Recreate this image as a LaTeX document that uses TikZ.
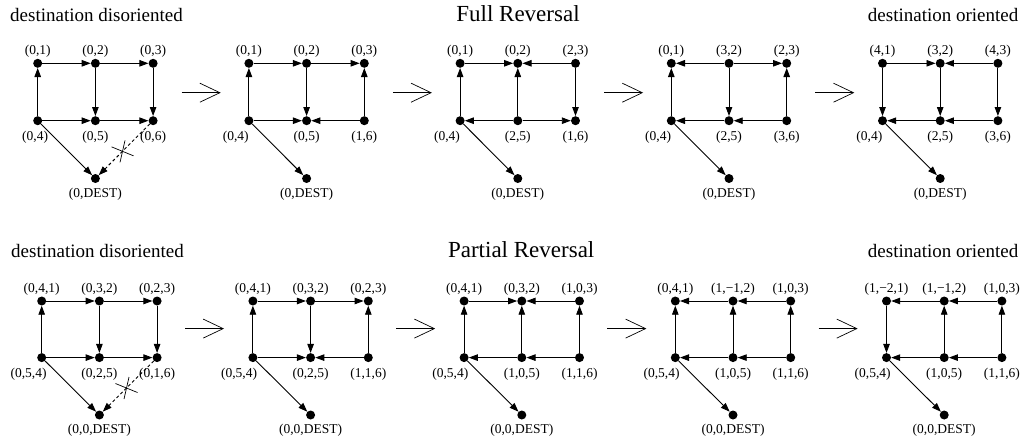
\documentclass[tikz,border=0pt]{standalone}
\usepackage{fontspec}
\setmainfont{Liberation Serif}
\usetikzlibrary{arrows.meta,calc}
\tikzset{
  dot/.style={circle,fill=black,inner sep=0pt,minimum size=9pt},
  lab/.style={inner sep=0pt,font=\fontsize{13.5}{15}\selectfont},
  ttl/.style={inner sep=0pt,font=\fontsize{19}{22}\selectfont},
  bigttl/.style={inner sep=0pt,font=\fontsize{23}{26}\selectfont},
  edg/.style={-{Triangle[length=9pt,width=6.5pt]},line width=0.9pt},
  dedg/.style={edg,dash pattern=on 3pt off 2.5pt},
  cross/.style={line width=0.7pt},
  stepar/.style={-{Straight Barb[length=20pt,width=19pt]},line width=0.7pt}
}
% grid of dots: prefix, x of left column, y of top row, row gap, dest gap
\newcommand\mkgrid[5]{%
  \node[dot] (#1TL) at (#2,#3) {};
  \node[dot] (#1TM) at (#2+57.7,#3) {};
  \node[dot] (#1TR) at (#2+115.4,#3) {};
  \node[dot] (#1BL) at (#2,#3-#4) {};
  \node[dot] (#1BM) at (#2+57.7,#3-#4) {};
  \node[dot] (#1BR) at (#2+115.4,#3-#4) {};
  \node[dot] (#1D)  at (#2+57.7,#3-#5) {};
}
% labels: prefix, x shift of bottom-left label, TL, TM, TR, BL, BM, BR, D
\newcommand\mklab[9]{%
  \node[lab,anchor=base] (#1lTL) at ([yshift=8.4pt]#1TL.center) {#3};
  \node[lab,anchor=base] (#1lTM) at ([yshift=8.4pt]#1TM.center) {#4};
  \node[lab,anchor=base] (#1lTR) at ([yshift=8.4pt]#1TR.center) {#5};
  \node[lab,anchor=base east] (#1lBL) at ([xshift=#2pt,yshift=-19.6pt]#1BL.center) {#6};
  \node[lab,anchor=base] (#1lBM) at ([yshift=-19.6pt]#1BM.center) {#7};
  \node[lab,anchor=base] (#1lBR) at ([yshift=-19.6pt]#1BR.center) {#8};
  \node[lab,anchor=base] (#1lD) at ([yshift=-18.8pt]#1D.center) {#9};
}
% dashed, crossed-out edge BR -> D
\newcommand\mkcut[1]{%
  \draw[dedg] (#1BR) -- (#1D);
  \coordinate (#1X) at ($(#1BR)!0.53!(#1D)$);
  \draw[cross] ([shift={(-11,4.5)}]#1X) -- ([shift={(11,-4.5)}]#1X);
  \draw[cross] ([shift={(2.5,11)}]#1X) -- ([shift={(-2.5,-11)}]#1X);
}
\begin{document}
\begin{tikzpicture}[x=1pt,y=1pt]
\useasboundingbox (0,0) rectangle (1022,-445);
\fill[white] (0,0) rectangle (1022,-445);

% ---------- titles ----------
\node[ttl,anchor=base west] (t1) at (10,-21.7) {destination disoriented};
\node[bigttl,anchor=base] (t2) at (518,-21.7) {Full Reversal};
\node[ttl,anchor=base east] (t3) at (1018.5,-21.7) {destination oriented};
\node[ttl,anchor=base west] (t4) at (11,-257.3) {destination disoriented};
\node[bigttl,anchor=base] (t5) at (521.2,-257.3) {Partial Reversal};
\node[ttl,anchor=base east] (t6) at (1018.5,-257.3) {destination oriented};

% ---------- step arrows ----------
\foreach \i in {0,1,2,3}{
  \coordinate (sa\i) at (181.7+211.2*\i,-92.7);
  \coordinate (ea\i) at (220.7+211.2*\i,-92.7);
  \draw[stepar] (sa\i) -- (ea\i);
  \coordinate (sb\i) at (185+211.2*\i,-328.6);
  \coordinate (eb\i) at (224+211.2*\i,-328.6);
  \draw[stepar] (sb\i) -- (eb\i);
}

% ---------- top row: Full Reversal ----------
\mkgrid{a1}{37.7}{-63.3}{57.4}{115.2}
\mkgrid{a2}{248.9}{-63.3}{57.4}{115.2}
\mkgrid{a3}{460.1}{-63.3}{57.4}{115.2}
\mkgrid{a4}{671.3}{-63.3}{57.4}{115.2}
\mkgrid{a5}{882.5}{-63.3}{57.4}{115.2}

\mklab{a1}{10.6}{(0,1)}{(0,2)}{(0,3)}{(0,4)}{(0,5)}{(0,6)}{(0,DEST)}
\mklab{a2}{0}{(0,1)}{(0,2)}{(0,3)}{(0,4)}{(0,5)}{(1,6)}{(0,DEST)}
\mklab{a3}{0}{(0,1)}{(0,2)}{(2,3)}{(0,4)}{(2,5)}{(1,6)}{(0,DEST)}
\mklab{a4}{0}{(0,1)}{(3,2)}{(2,3)}{(0,4)}{(2,5)}{(3,6)}{(0,DEST)}
\mklab{a5}{0}{(4,1)}{(3,2)}{(4,3)}{(0,4)}{(2,5)}{(3,6)}{(0,DEST)}

% panel a1
\draw[edg] (a1BL) -- (a1TL);
\draw[edg] (a1TL) -- (a1TM);
\draw[edg] (a1TM) -- (a1TR);
\draw[edg] (a1TM) -- (a1BM);
\draw[edg] (a1TR) -- (a1BR);
\draw[edg] (a1BL) -- (a1BM);
\draw[edg] (a1BM) -- (a1BR);
\draw[edg] (a1BL) -- (a1D);
\mkcut{a1}
% panel a2
\draw[edg] (a2BL) -- (a2TL);
\draw[edg] (a2TL) -- (a2TM);
\draw[edg] (a2TM) -- (a2TR);
\draw[edg] (a2TM) -- (a2BM);
\draw[edg] (a2BR) -- (a2TR);
\draw[edg] (a2BL) -- (a2BM);
\draw[edg] (a2BR) -- (a2BM);
\draw[edg] (a2BL) -- (a2D);
% panel a3
\draw[edg] (a3BL) -- (a3TL);
\draw[edg] (a3TL) -- (a3TM);
\draw[edg] (a3TR) -- (a3TM);
\draw[edg] (a3BM) -- (a3TM);
\draw[edg] (a3TR) -- (a3BR);
\draw[edg] (a3BM) -- (a3BL);
\draw[edg] (a3BM) -- (a3BR);
\draw[edg] (a3BL) -- (a3D);
% panel a4
\draw[edg] (a4BL) -- (a4TL);
\draw[edg] (a4TM) -- (a4TL);
\draw[edg] (a4TM) -- (a4TR);
\draw[edg] (a4TM) -- (a4BM);
\draw[edg] (a4BR) -- (a4TR);
\draw[edg] (a4BM) -- (a4BL);
\draw[edg] (a4BR) -- (a4BM);
\draw[edg] (a4BL) -- (a4D);
% panel a5
\draw[edg] (a5TL) -- (a5BL);
\draw[edg] (a5TL) -- (a5TM);
\draw[edg] (a5TR) -- (a5TM);
\draw[edg] (a5TM) -- (a5BM);
\draw[edg] (a5TR) -- (a5BR);
\draw[edg] (a5BM) -- (a5BL);
\draw[edg] (a5BR) -- (a5BM);
\draw[edg] (a5BL) -- (a5D);

% ---------- bottom row: Partial Reversal ----------
\mkgrid{b1}{41.7}{-301}{56.6}{114}
\mkgrid{b2}{252.9}{-301}{56.6}{114}
\mkgrid{b3}{464.1}{-301}{56.6}{114}
\mkgrid{b4}{675.3}{-301}{56.6}{114}
\mkgrid{b5}{886.5}{-301}{56.6}{114}

\mklab{b1}{5}{(0,4,1)}{(0,3,2)}{(0,2,3)}{(0,5,4)}{(0,2,5)}{(0,1,6)}{(0,0,DEST)}
\mklab{b2}{4.4}{(0,4,1)}{(0,3,2)}{(0,2,3)}{(0,5,4)}{(0,2,5)}{(1,1,6)}{(0,0,DEST)}
\mklab{b3}{4.4}{(0,4,1)}{(0,3,2)}{(1,0,3)}{(0,5,4)}{(1,0,5)}{(1,1,6)}{(0,0,DEST)}
\mklab{b4}{4.4}{(0,4,1)}{(1,−1,2)}{(1,0,3)}{(0,5,4)}{(1,0,5)}{(1,1,6)}{(0,0,DEST)}
\mklab{b5}{4.4}{(1,−2,1)}{(1,−1,2)}{(1,0,3)}{(0,5,4)}{(1,0,5)}{(1,1,6)}{(0,0,DEST)}

% panel b1
\draw[edg] (b1BL) -- (b1TL);
\draw[edg] (b1TL) -- (b1TM);
\draw[edg] (b1TM) -- (b1TR);
\draw[edg] (b1TM) -- (b1BM);
\draw[edg] (b1TR) -- (b1BR);
\draw[edg] (b1BL) -- (b1BM);
\draw[edg] (b1BM) -- (b1BR);
\draw[edg] (b1BL) -- (b1D);
\mkcut{b1}
% panel b2
\draw[edg] (b2BL) -- (b2TL);
\draw[edg] (b2TL) -- (b2TM);
\draw[edg] (b2TM) -- (b2TR);
\draw[edg] (b2TM) -- (b2BM);
\draw[edg] (b2BR) -- (b2TR);
\draw[edg] (b2BL) -- (b2BM);
\draw[edg] (b2BR) -- (b2BM);
\draw[edg] (b2BL) -- (b2D);
% panel b3
\draw[edg] (b3BL) -- (b3TL);
\draw[edg] (b3TL) -- (b3TM);
\draw[edg] (b3TR) -- (b3TM);
\draw[edg] (b3BM) -- (b3TM);
\draw[edg] (b3BR) -- (b3TR);
\draw[edg] (b3BM) -- (b3BL);
\draw[edg] (b3BR) -- (b3BM);
\draw[edg] (b3BL) -- (b3D);
% panel b4
\draw[edg] (b4BL) -- (b4TL);
\draw[edg] (b4TM) -- (b4TL);
\draw[edg] (b4TR) -- (b4TM);
\draw[edg] (b4BM) -- (b4TM);
\draw[edg] (b4BR) -- (b4TR);
\draw[edg] (b4BM) -- (b4BL);
\draw[edg] (b4BR) -- (b4BM);
\draw[edg] (b4BL) -- (b4D);
% panel b5
\draw[edg] (b5TL) -- (b5BL);
\draw[edg] (b5TM) -- (b5TL);
\draw[edg] (b5TR) -- (b5TM);
\draw[edg] (b5BM) -- (b5TM);
\draw[edg] (b5BR) -- (b5TR);
\draw[edg] (b5BM) -- (b5BL);
\draw[edg] (b5BR) -- (b5BM);
\draw[edg] (b5BL) -- (b5D);
\end{tikzpicture}
\end{document}
